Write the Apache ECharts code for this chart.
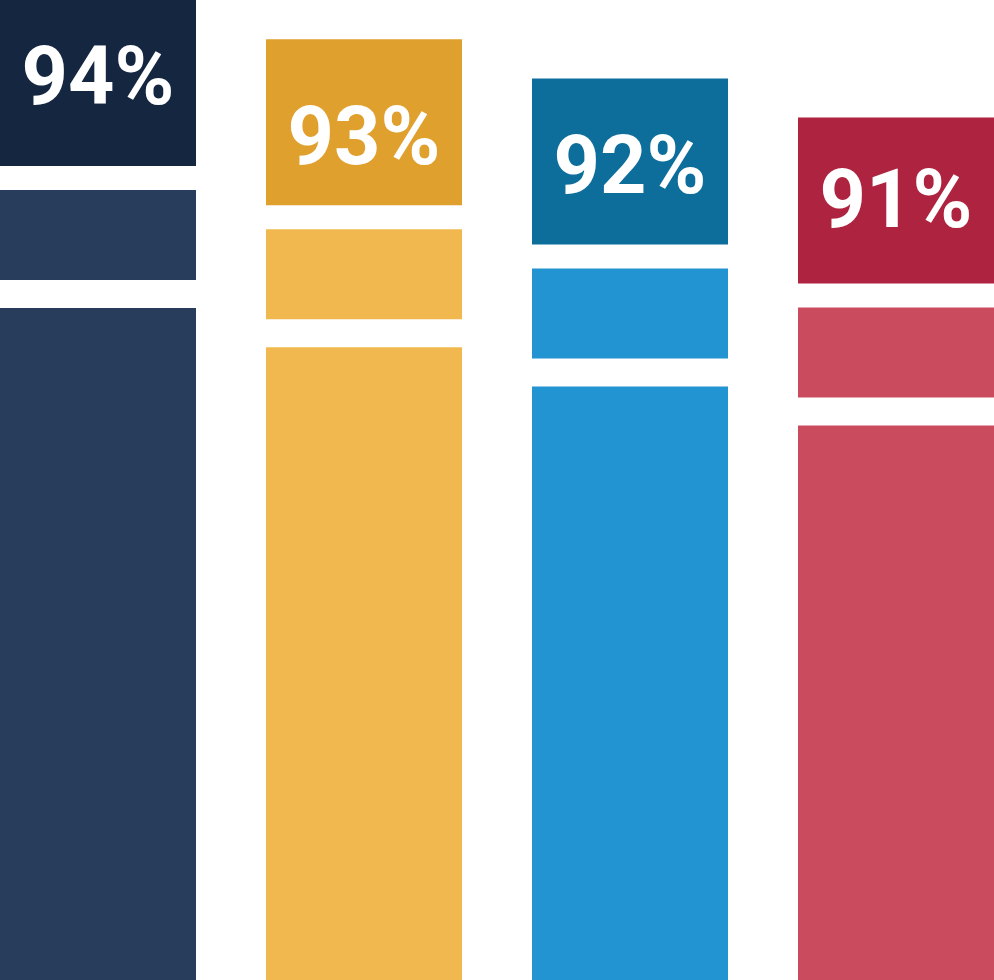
<!DOCTYPE html>
<html>
<head>
<meta charset="utf-8">
<script src="https://cdn.jsdelivr.net/npm/echarts@6/dist/echarts.min.js"></script>
<style>
  html, body { margin: 0; padding: 0; background: #ffffff; }
  #chart { width: 994px; height: 980px; }
</style>
</head>
<body>
<div id="chart"></div>
<script>
// ---- data ----
var categories = ['A', 'B', 'C', 'D'];
var values = [94, 93, 92, 91];
var labels = ['94%', '93%', '92%', '91%'];

// ---- styles ----
var topColors = ['#142640', '#e0a02d', '#0e6e9b', '#ae233f'];
var bodyColors = ['#283d5b', '#f0b84f', '#2394d2', '#cb4b5e'];
var labelNudge = [0.5, 21.5, 11, 6.5];
var Y_MIN = 69, Y_MAX = 94;
var X_MIN = -0.3684, X_MAX = 3.3684;
var BAR_W = 196, BOX_H = 166, GAP1 = 24, MID_H = 90, GAP2 = 28;

var chart = echarts.init(document.getElementById('chart'), null, { renderer: 'canvas' });

var seriesData = values.map(function (v, i) { return [i, v, categories[i]]; });

chart.setOption({
  backgroundColor: '#ffffff',
  animation: false,
  grid: { left: 0, right: 0, top: 0, bottom: 0 },
  xAxis: {
    type: 'value',
    min: X_MIN,
    max: X_MAX,
    show: false
  },
  yAxis: {
    type: 'value',
    min: Y_MIN,
    max: Y_MAX,
    show: false
  },
  series: [{
    type: 'custom',
    data: seriesData,
    renderItem: function (params, api) {
      var i = api.value(0);
      var v = api.value(1);
      var top = api.coord([i, v]);
      var base = api.coord([i, Y_MIN]);
      var cx = top[0];
      var x0 = cx - BAR_W / 2;
      var y0 = top[1];
      var yMid = y0 + BOX_H + GAP1;
      var yBody = yMid + MID_H + GAP2;
      return {
        type: 'group',
        children: [
          { type: 'rect', shape: { x: x0, y: y0, width: BAR_W, height: BOX_H }, style: { fill: topColors[i] } },
          { type: 'rect', shape: { x: x0, y: yMid, width: BAR_W, height: MID_H }, style: { fill: bodyColors[i] } },
          { type: 'rect', shape: { x: x0, y: yBody, width: BAR_W, height: base[1] - yBody }, style: { fill: bodyColors[i] } },
          {
            type: 'text',
            style: {
              text: labels[i],
              x: cx,
              y: y0 + BOX_H / 2 + labelNudge[i],
              align: 'center',
              verticalAlign: 'middle',
              fill: '#ffffff',
              fontFamily: 'Roboto',
              fontWeight: 'bold',
              fontSize: 81
            }
          }
        ]
      };
    }
  }]
});
</script>
</body>
</html>
